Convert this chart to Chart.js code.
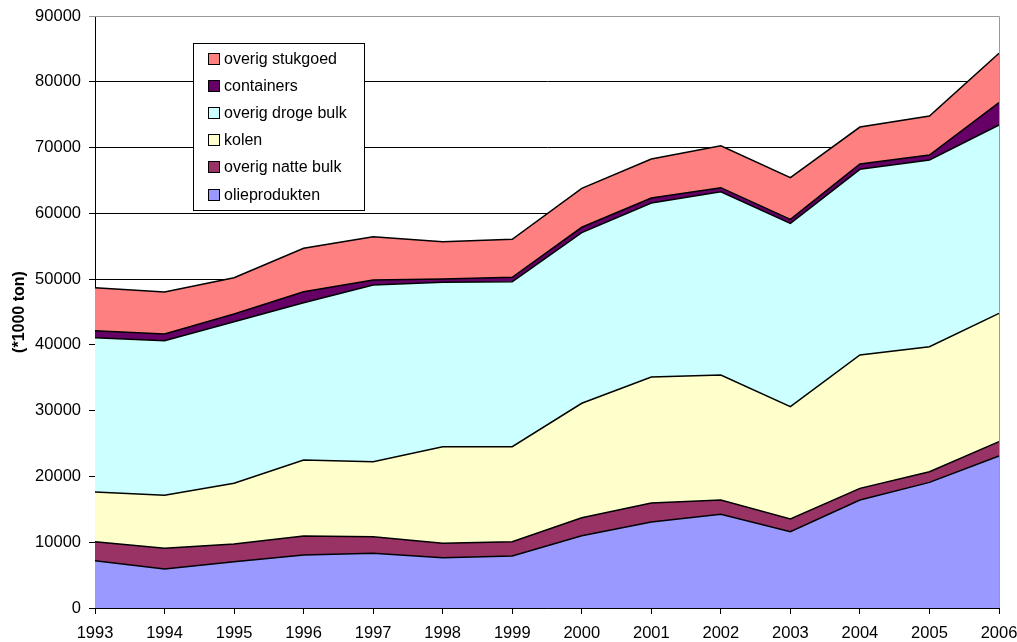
<!DOCTYPE html>
<html>
<head>
<meta charset="utf-8">
<script src="https://cdn.jsdelivr.net/npm/chart.js@4.4.1/dist/chart.umd.min.js"></script>
<style>
html,body{margin:0;padding:0;background:#fff;}
#wrap{width:1017px;height:642px;position:relative;}
</style>
</head>
<body>
<div id="wrap"><canvas id="c" width="1017" height="642"></canvas></div>
<script>
const years = ['1993','1994','1995','1996','1997','1998','1999','2000','2001','2002','2003','2004','2005','2006'];
const olieprodukten   = [7190, 5930, 7040, 8060, 8310, 7650, 7900, 10990, 13070, 14240, 11600, 16420, 19100, 23110];
const overigNatteBulk = [2890, 3140, 2690, 2890, 2530, 2180, 2180, 2740, 2890, 2180, 1930, 1770, 1620, 2180];
const kolen           = [7550, 8060, 9230, 11550, 11400, 14690, 14440, 17390, 19160, 19000, 17070, 20270, 19010, 19510];
const overigDrogeBulk = [23470, 23510, 24570, 23920, 26860, 24990, 25090, 25940, 26450, 27870, 27880, 28230, 28380, 28630];
const containers      = [1060, 1010, 1160, 1670, 760, 510, 660, 820, 760, 610, 610, 810, 760, 3390];
const overigStukgoed  = [6540, 6390, 5530, 6590, 6590, 5670, 5780, 5920, 5930, 6380, 6330, 5620, 5930, 7510];
const yTicks = [0, 10000, 20000, 30000, 40000, 50000, 60000, 70000, 80000, 90000];

const FONT = "'Liberation Sans', Arial, sans-serif";

function ds(label, data, color, fill) {
  return {
    label, data,
    backgroundColor: color,
    borderColor: '#000',
    borderWidth: 1.5,
    pointRadius: 0,
    pointHoverRadius: 0,
    tension: 0,
    fill: fill
  };
}

const legendBox = {
  id: 'legendBox',
  afterDraw(chart) {
    const ctx = chart.ctx;
    const x = 193, y = 43, w = 171, h = 167;
    ctx.save();
    ctx.fillStyle = '#fff';
    ctx.fillRect(x, y, w, h);
    ctx.strokeStyle = '#000';
    ctx.lineWidth = 1;
    ctx.strokeRect(x + 0.5, y + 0.5, w, h);
    const items = chart.data.datasets.slice().reverse();
    ctx.font = '16px ' + FONT;
    ctx.textBaseline = 'middle';
    items.forEach((d, i) => {
      const cy = Math.round(58.5 + i * 27.2);
      ctx.fillStyle = d.backgroundColor;
      ctx.fillRect(209, cy - 5, 10, 10);
      ctx.strokeStyle = '#000';
      ctx.lineWidth = 1;
      ctx.strokeRect(208.5, cy - 5.5, 11, 11);
      ctx.fillStyle = '#000';
      ctx.fillText(d.label, 224, cy + 1);
    });
    ctx.restore();
  }
};

const frame = {
  id: 'frame',
  afterDatasetsDraw(chart) {
    const a = chart.chartArea, ctx = chart.ctx;
    ctx.save();
    ctx.strokeStyle = '#999';
    ctx.lineWidth = 1;
    ctx.beginPath();
    ctx.moveTo(a.left, a.top + 0.5);
    ctx.lineTo(a.right + 0.5, a.top + 0.5);
    ctx.lineTo(a.right + 0.5, a.bottom);
    ctx.stroke();
    ctx.restore();
  }
};

new Chart(document.getElementById('c'), {
  type: 'line',
  data: {
    labels: years,
    datasets: [
      ds('olieprodukten', olieprodukten, '#9999FF', 'origin'),
      ds('overig natte bulk', overigNatteBulk, '#993366', '-1'),
      ds('kolen', kolen, '#FFFFCC', '-1'),
      ds('overig droge bulk', overigDrogeBulk, '#CCFFFF', '-1'),
      ds('containers', containers, '#660066', '-1'),
      ds('overig stukgoed', overigStukgoed, '#FF8080', '-1')
    ]
  },
  options: {
    responsive: false,
    animation: false,
    layout: { padding: { left: 0, top: 16, right: 18, bottom: 0 } },
    plugins: { legend: { display: false }, tooltip: { enabled: false } },
    elements: { line: { borderJoinStyle: 'miter' } },
    scales: {
      x: {
        type: 'category',
        offset: false,
        grid: { drawOnChartArea: false, drawTicks: true, tickLength: 6, color: '#000' },
        border: { display: true, color: '#000', width: 1 },
        ticks: { font: { family: FONT, size: 16.5 }, color: '#000', padding: 10, maxRotation: 0, autoSkip: false },
        afterFit(s) { s.height = 34; s.paddingLeft = 0; s.paddingRight = 0; }
      },
      y: {
        stacked: true,
        min: 0, max: 90000,
        afterBuildTicks(s) { s.ticks = yTicks.map(v => ({ value: v })); },
        grid: {
          color: (c) => (c.tick && c.tick.value === 90000) ? '#999' : '#000',
          lineWidth: 1,
          drawTicks: true,
          tickLength: 6
        },
        border: { display: true, color: '#000', width: 1 },
        ticks: { font: { family: FONT, size: 16.5 }, color: '#000', padding: 8, callback: (v) => String(v) },
        title: { display: true, text: '(*1000 ton)', font: { family: FONT, size: 16, weight: 'bold' }, color: '#000', padding: { top: 10, bottom: 0 } },
        afterFit(s) { s.width = 95; s.paddingTop = 0; s.paddingBottom = 0; }
      }
    }
  },
  plugins: [frame, legendBox]
});
</script>
</body>
</html>
